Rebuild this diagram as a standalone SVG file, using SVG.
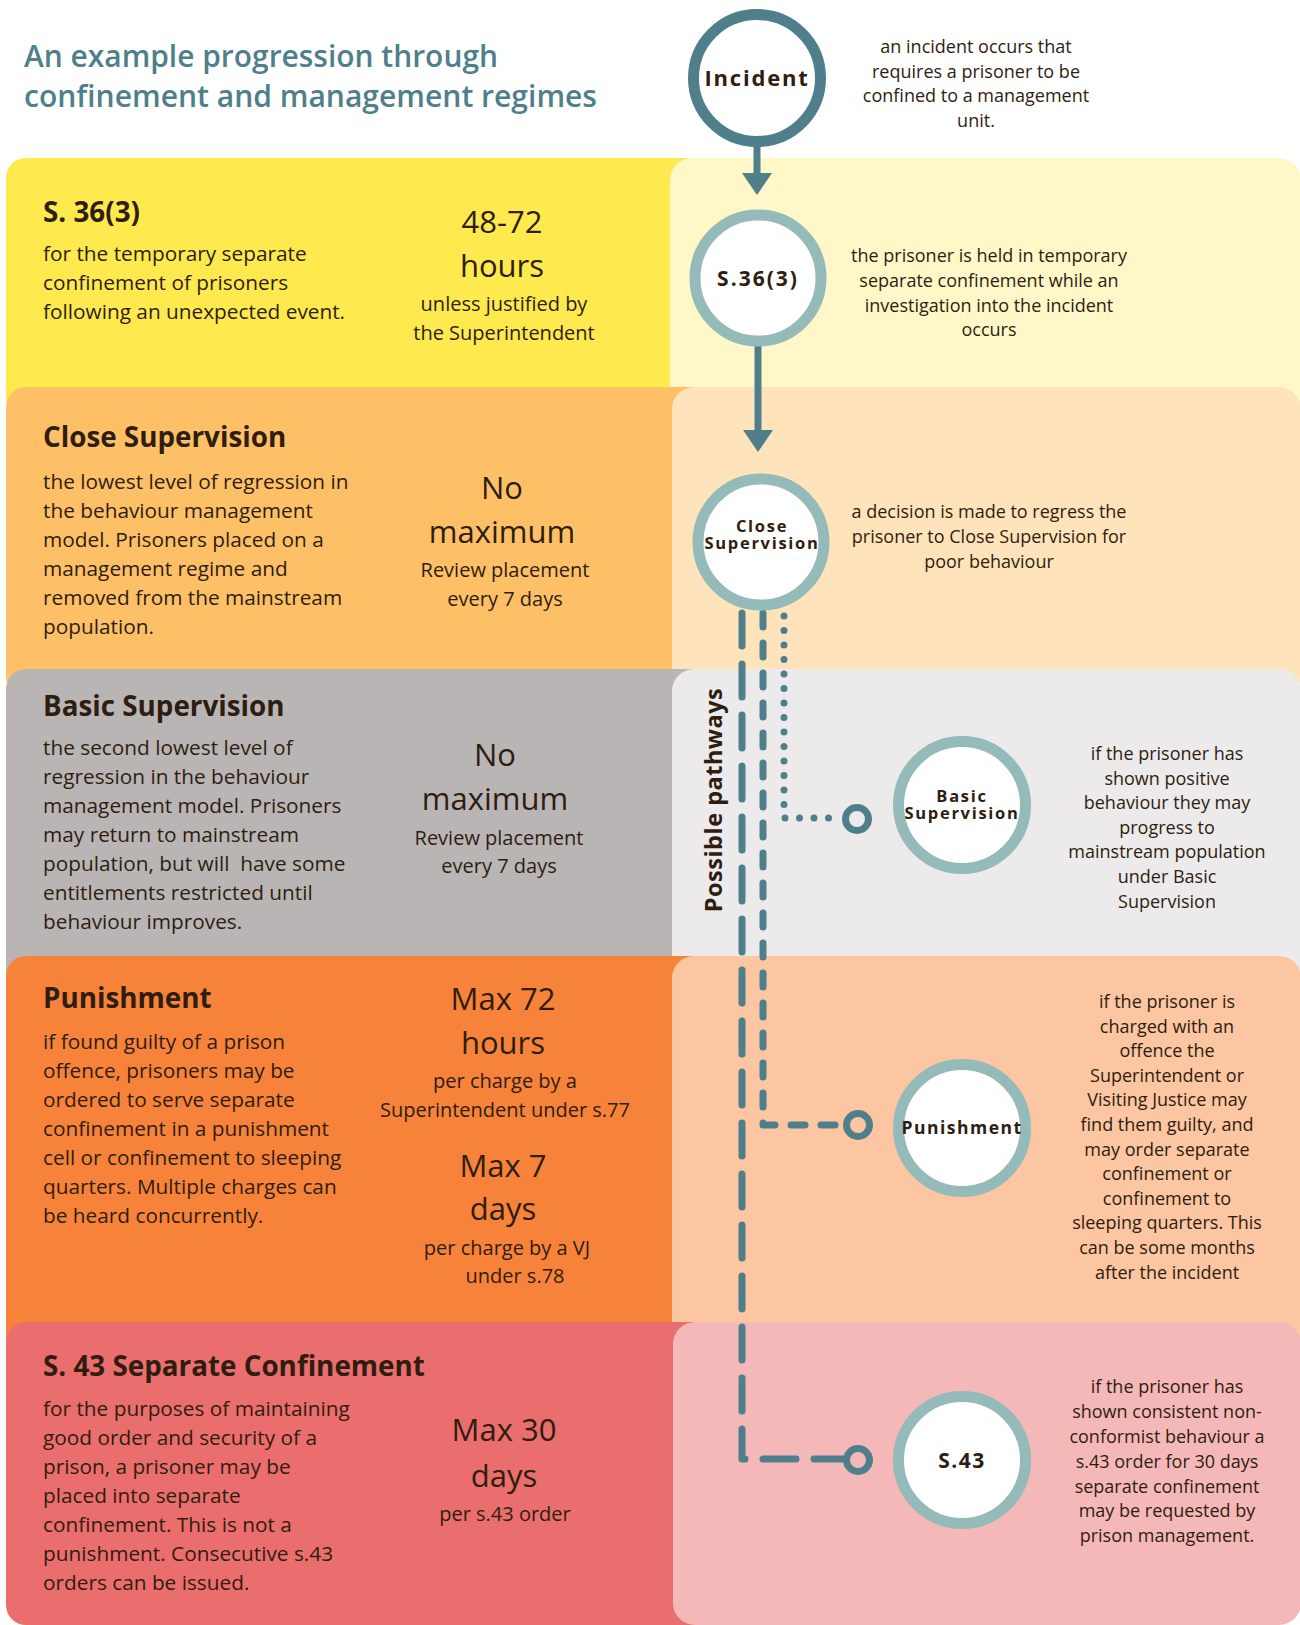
<svg xmlns="http://www.w3.org/2000/svg" width="1300" height="1625" viewBox="0 0 1300 1625">
<defs>
<style>
.t{font-family:"Open Sans","Noto Sans","Liberation Sans",sans-serif;fill:#2E1D10}
.title{font-family:"Open Sans","Noto Sans",sans-serif;font-weight:600;font-size:30px;fill:#4F7F8A}
.head{font-weight:700;font-size:27.8px}
.body{font-size:20.8px}
.big{font-size:31px;font-weight:500;text-anchor:middle}
.mid{font-size:20px;text-anchor:middle}
.desc{font-size:18px;text-anchor:middle}
.lbl{font-weight:700;text-anchor:middle}
.ringD{fill:#fff;stroke:#4E7F8A;stroke-width:11}
.ringL{fill:#fff;stroke:#95BABA;stroke-width:11}
.conn{fill:none;stroke:#4E7F8A;stroke-width:7;stroke-linecap:round;stroke-linejoin:round}
.end{fill:none;stroke:#4E7F8A;stroke-width:7}
</style>
<marker id="arrow" markerUnits="userSpaceOnUse" viewBox="0 0 22 30" markerWidth="22" markerHeight="30" refX="1" refY="15" orient="auto">
<path d="M0 0 L22 15 L0 30 Z" fill="#4E7F8A"/>
</marker>
</defs>
<rect width="1300" height="1625" fill="#fff"/>

<g id="bands">
<g id="band-s363">
<rect x="6" y="158" width="720" height="260" rx="20" fill="#FEE94E"/>
<rect x="670" y="158" width="631" height="260" rx="22" fill="#FEF8C8"/>
</g>
<g id="band-close">
<rect x="6" y="387" width="720" height="310" rx="20" fill="#FEC067"/>
<rect x="672" y="387" width="629" height="310" rx="22" fill="#FFE4BB"/>
</g>
<g id="band-basic">
<rect x="6" y="669" width="720" height="320" rx="20" fill="#B9B5B5"/>
<rect x="672" y="669" width="629" height="320" rx="22" fill="#ECEAEB"/>
</g>
<g id="band-punish">
<rect x="6" y="956" width="720" height="400" rx="20" fill="#F7833A"/>
<rect x="672" y="956" width="629" height="400" rx="22" fill="#FBC6A1"/>
</g>
<g id="band-s43">
<rect x="6" y="1322" width="720" height="303" rx="20" fill="#EB6E6E"/>
<rect x="673" y="1322" width="628" height="303" rx="22" fill="#F5B8B9"/>
</g>
</g>

<g id="title">
<text class="title" x="24" y="67" textLength="474" lengthAdjust="spacingAndGlyphs">An example progression through</text>
<text class="title" x="24" y="107" textLength="573" lengthAdjust="spacingAndGlyphs">confinement and management regimes</text>
</g>

<g id="connectors">
<line class="conn" x1="757" y1="143" x2="757" y2="174" stroke-linecap="butt" marker-end="url(#arrow)"/>
<line class="conn" x1="758" y1="347" x2="758" y2="431" stroke-linecap="butt" marker-end="url(#arrow)"/>
<path class="conn" d="M742 613 V1459 H846" stroke-dasharray="33 18"/>
<path class="conn" d="M763 613 V1125 H846" stroke-dasharray="14 16"/>
<path class="conn" d="M784 616 V818 H842" stroke-dasharray="0 14.5"/>
<circle class="end" cx="857" cy="819" r="11.5"/>
<circle class="end" cx="858" cy="1125" r="11.5"/>
<circle class="end" cx="858" cy="1460" r="11.5"/>
<text class="t" transform="translate(722,800) rotate(-90)" text-anchor="middle" font-weight="700" font-size="23.5" letter-spacing="0.5">Possible pathways</text>
</g>

<g id="node-incident">
<circle class="ringD" cx="757" cy="78" r="63.5"/>
<text class="t lbl" x="757" y="86" font-size="22" letter-spacing="1.8">Incident</text>
</g>
<g id="node-s363">
<circle class="ringL" cx="758" cy="278" r="63"/>
<text class="t lbl" x="758" y="286" font-size="21" letter-spacing="2">S.36(3)</text>
</g>
<g id="node-close">
<circle class="ringL" cx="761" cy="542" r="63"/>
<text class="t lbl" font-size="16.5" letter-spacing="1.7"><tspan x="762" y="532">Close</tspan><tspan x="762" y="549">Supervision</tspan></text>
</g>
<g id="node-basic">
<circle class="ringL" cx="962" cy="805" r="63.5"/>
<text class="t lbl" font-size="16.5" letter-spacing="1.7"><tspan x="962" y="802">Basic</tspan><tspan x="962" y="819">Supervision</tspan></text>
</g>
<g id="node-punish">
<circle class="ringL" cx="962" cy="1128" r="63.5"/>
<text class="t lbl" x="962" y="1134" font-size="17.5" letter-spacing="1.5">Punishment</text>
</g>
<g id="node-s43">
<circle class="ringL" cx="962" cy="1460" r="63.5"/>
<text class="t lbl" x="962" y="1468" font-size="21" letter-spacing="1.5">S.43</text>
</g>

<g id="incident-desc">
<text class="t desc" x="976" y="53">an incident occurs that</text>
<text class="t desc" x="976" y="78">requires a prisoner to be</text>
<text class="t desc" x="976" y="102">confined to a management</text>
<text class="t desc" x="976" y="127">unit.</text>
</g>

<g id="text-s363">
<text class="t head" x="43" y="222">S. 36(3)</text>
<text class="t body" x="43" y="261">for the temporary separate</text>
<text class="t body" x="43" y="290">confinement of prisoners</text>
<text class="t body" x="43" y="319">following an unexpected event.</text>
<text class="t big" x="502" y="233">48-72</text>
<text class="t big" x="502" y="277">hours</text>
<text class="t mid" x="504" y="311">unless justified by</text>
<text class="t mid" x="504" y="340">the Superintendent</text>
<text class="t desc" x="989" y="262">the prisoner is held in temporary</text>
<text class="t desc" x="989" y="287">separate confinement while an</text>
<text class="t desc" x="989" y="312">investigation into the incident</text>
<text class="t desc" x="989" y="336">occurs</text>
</g>

<g id="text-close">
<text class="t head" x="43" y="447">Close Supervision</text>
<text class="t body" x="43" y="489">the lowest level of regression in</text>
<text class="t body" x="43" y="518">the behaviour management</text>
<text class="t body" x="43" y="547">model. Prisoners placed on a</text>
<text class="t body" x="43" y="576">management regime and</text>
<text class="t body" x="43" y="605">removed from the mainstream</text>
<text class="t body" x="43" y="634">population.</text>
<text class="t big" x="502" y="499">No</text>
<text class="t big" x="502" y="543">maximum</text>
<text class="t mid" x="505" y="577">Review placement</text>
<text class="t mid" x="505" y="606">every 7 days</text>
<text class="t desc" x="989" y="518">a decision is made to regress the</text>
<text class="t desc" x="989" y="543">prisoner to Close Supervision for</text>
<text class="t desc" x="989" y="568">poor behaviour</text>
</g>

<g id="text-basic">
<text class="t head" x="43" y="716">Basic Supervision</text>
<text class="t body" x="43" y="755">the second lowest level of</text>
<text class="t body" x="43" y="784">regression in the behaviour</text>
<text class="t body" x="43" y="813">management model. Prisoners</text>
<text class="t body" x="43" y="842">may return to mainstream</text>
<text class="t body" x="43" y="871" xml:space="preserve">population, but will  have some</text>
<text class="t body" x="43" y="900">entitlements restricted until</text>
<text class="t body" x="43" y="929">behaviour improves.</text>
<text class="t big" x="495" y="766">No</text>
<text class="t big" x="495" y="810">maximum</text>
<text class="t mid" x="499" y="845">Review placement</text>
<text class="t mid" x="499" y="873">every 7 days</text>
<text class="t desc" x="1167" y="760">if the prisoner has</text>
<text class="t desc" x="1167" y="785">shown positive</text>
<text class="t desc" x="1167" y="809">behaviour they may</text>
<text class="t desc" x="1167" y="834">progress to</text>
<text class="t desc" x="1167" y="858">mainstream population</text>
<text class="t desc" x="1167" y="883">under Basic</text>
<text class="t desc" x="1167" y="908">Supervision</text>
</g>

<g id="text-punish">
<text class="t head" x="43" y="1008">Punishment</text>
<text class="t body" x="43" y="1049">if found guilty of a prison</text>
<text class="t body" x="43" y="1078">offence, prisoners may be</text>
<text class="t body" x="43" y="1107">ordered to serve separate</text>
<text class="t body" x="43" y="1136">confinement in a punishment</text>
<text class="t body" x="43" y="1165">cell or confinement to sleeping</text>
<text class="t body" x="43" y="1194">quarters. Multiple charges can</text>
<text class="t body" x="43" y="1223">be heard concurrently.</text>
<text class="t big" x="503" y="1010">Max 72</text>
<text class="t big" x="503" y="1054">hours</text>
<text class="t mid" x="505" y="1088">per charge by a</text>
<text class="t mid" x="505" y="1117">Superintendent under s.77</text>
<text class="t big" x="503" y="1177">Max 7</text>
<text class="t big" x="503" y="1220">days</text>
<text class="t mid" x="507" y="1255">per charge by a VJ</text>
<text class="t mid" x="515" y="1283">under s.78</text>
<text class="t desc" x="1167" y="1008">if the prisoner is</text>
<text class="t desc" x="1167" y="1033">charged with an</text>
<text class="t desc" x="1167" y="1057">offence the</text>
<text class="t desc" x="1167" y="1082">Superintendent or</text>
<text class="t desc" x="1167" y="1106">Visiting Justice may</text>
<text class="t desc" x="1167" y="1131">find them guilty, and</text>
<text class="t desc" x="1167" y="1156">may order separate</text>
<text class="t desc" x="1167" y="1180">confinement or</text>
<text class="t desc" x="1167" y="1205">confinement to</text>
<text class="t desc" x="1167" y="1229">sleeping quarters. This</text>
<text class="t desc" x="1167" y="1254">can be some months</text>
<text class="t desc" x="1167" y="1279">after the incident</text>
</g>

<g id="text-s43">
<text class="t head" x="43" y="1376">S. 43 Separate Confinement</text>
<text class="t body" x="43" y="1416">for the purposes of maintaining</text>
<text class="t body" x="43" y="1445">good order and security of a</text>
<text class="t body" x="43" y="1474">prison, a prisoner may be</text>
<text class="t body" x="43" y="1503">placed into separate</text>
<text class="t body" x="43" y="1532">confinement. This is not a</text>
<text class="t body" x="43" y="1561">punishment. Consecutive s.43</text>
<text class="t body" x="43" y="1590">orders can be issued.</text>
<text class="t big" x="504" y="1441">Max 30</text>
<text class="t big" x="504" y="1487">days</text>
<text class="t mid" x="505" y="1521">per s.43 order</text>
<text class="t desc" x="1167" y="1393">if the prisoner has</text>
<text class="t desc" x="1167" y="1418">shown consistent non-</text>
<text class="t desc" x="1167" y="1443">conformist behaviour a</text>
<text class="t desc" x="1167" y="1468">s.43 order for 30 days</text>
<text class="t desc" x="1167" y="1493">separate confinement</text>
<text class="t desc" x="1167" y="1517">may be requested by</text>
<text class="t desc" x="1167" y="1542">prison management.</text>
</g>
</svg>
